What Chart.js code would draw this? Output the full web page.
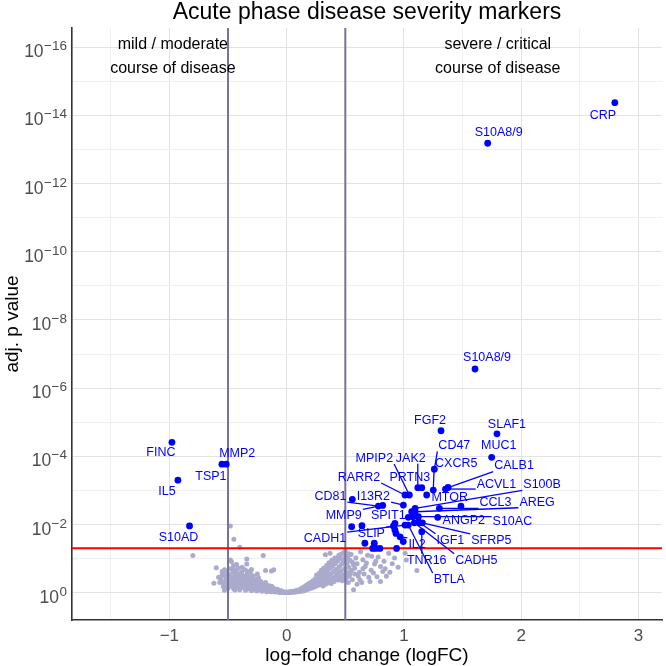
<!DOCTYPE html>
<html>
<head>
<meta charset="utf-8">
<script src="https://cdn.jsdelivr.net/npm/chart.js@4/dist/chart.umd.min.js"></script>
<style>
  html, body { margin: 0; padding: 0; background: #ffffff; }
  #volcano { display: block; }
</style>
</head>
<body>
<canvas id="volcano" width="666" height="666"></canvas>
<script>
// Labelled markers (logFC, -log10 adj. p)
const markerNames = [
    'CRP', 'S10A8/9', 'S10A8/9', 'FINC', 'MMP2', 'TSP1', 'IL5', 'S10AD',
    'FGF2', 'SLAF1', 'MUC1', 'CD47', 'CXCR5', 'CALB1', 'JAK2', 'MPIP2',
    'PRTN3', 'MTOR', 'RARR2', 'ACVL1', 'S100B', 'CD81', 'I13R2', 'CCL3',
    'AREG', 'MMP9', 'SPIT1', 'ANGP2', 'S10AC', 'CADH1', 'SLIP', 'IGF1',
    'SFRP5', 'IL2', 'CADH5', 'TNR16', 'BTLA'
];
const markerLogFC = [
    2.798, 1.714, 1.606, -0.978, -0.515, -0.552, -0.927, -0.828,
    1.316, 1.793, 1.748, 1.259, 1.250, 1.376, 1.118, 1.046,
    1.152, 1.194, 1.009, 1.354, 1.095, 0.782, 0.995, 1.302,
    1.095, 0.819, 1.037, 1.288, 1.123, 1.009, 0.910, 1.123,
    1.157, 0.967, 1.089, 1.152, 1.037
];
const markerNegLog10P = [
    14.37, 13.18, 6.56, 4.41, 3.77, 3.77, 3.30, 1.96,
    4.75, 4.66, 3.97, 3.62, 3.01, 3.085, 3.08, 2.865,
    3.08, 2.865, 2.865, 3.04, 2.475, 2.54, 2.57, 2.475,
    2.375, 2.56, 2.21, 2.21, 2.23, 1.985, 1.955, 2.08,
    2.05, 1.64, 2.05, 1.79, 1.985
];

// Significant markers without a label
const otherSigLogFC = [
    0.560, 1.486, 0.554, 0.642, 0.667, 0.747, 0.761, 0.795, 0.937,
    0.932, 0.923, 1.066, 1.075, 1.130, 0.994, 0.733, 0.923
];
const otherSigNegLog10P = [
    2.74, 2.54, 1.935, 1.965, 1.45, 1.45, 1.30, 1.30, 1.30,
    1.74, 2.035, 2.375, 2.23, 2.05, 1.50, 1.30, 1.84
];

// Non-significant markers
const nsLogFC = [
    -0.80, -0.48, -0.45, -0.40, -0.60, -0.53, -0.53, -0.20, -0.18, -0.34,
    -0.43, -0.34, -0.11, -0.13, -0.47, -0.48, -0.34, -0.44, -0.53, -0.426,
    -0.56, -0.55, -0.54, -0.52, -0.515, -0.51, -0.50, -0.495, -0.49, -0.485,
    -0.47, -0.465, -0.46, -0.455, -0.45, -0.445, -0.44, -0.435, -0.425, -0.42,
    -0.415, -0.41, -0.40, -0.395, -0.39, -0.385, -0.375, -0.37, -0.365, -0.36,
    -0.35, -0.345, -0.34, -0.335, -0.325, -0.32, -0.315, -0.31, -0.30, -0.295,
    -0.29, -0.285, -0.275, -0.27, -0.265, -0.255, -0.25, -0.245, -0.24, -0.23,
    -0.225, -0.22, -0.21, -0.205, -0.20, -0.19, -0.185, -0.18, -0.17, -0.165,
    -0.16, -0.15, -0.145, -0.135, -0.13, -0.125, -0.115, -0.11, -0.10, -0.095,
    -0.085, -0.08, -0.07, -0.065, -0.055, -0.045, -0.04, -0.03, -0.02, -0.01,
    -0.52, -0.50, -0.48, -0.46, -0.44, -0.43, -0.41, -0.40, -0.38, -0.36,
    -0.35, -0.33, -0.31, -0.28, -0.26, -0.24, -0.22, -0.20, -0.175, -0.155,
    -0.58, -0.57, -0.55, -0.54, -0.53, -0.51, -0.50, -0.49, -0.47, -0.46,
    -0.45, -0.44, -0.43, -0.42, -0.41, -0.39, -0.38, -0.37, -0.36, -0.35,
    -0.34, -0.33, -0.32, -0.30, -0.29, -0.27, -0.26, -0.25, -0.23, -0.21,
    -0.19, -0.17, -0.15, -0.14, -0.12, -0.10, -0.08, -0.07, -0.05, -0.62,
    -0.25, -0.30, -0.38, -0.09, -0.06, -0.035, -0.015,
    0.00, 0.01, 0.02, 0.03, 0.04, 0.05, 0.06, 0.07,
    0.005, 0.015, 0.025, 0.035, 0.045, 0.055, 0.065, 0.075, 0.085, 0.095,
    0.105, 0.115, 0.135, 0.155, 0.175, 0.195, 0.215, 0.235, 0.26, 0.28,
    0.30, 0.32, 0.34, 0.36, 0.38, 0.40, 0.42, 0.44, 0.46, 0.48,
    0.50, 0.52, 0.54,
    0.08, 0.09, 0.10, 0.11, 0.12, 0.125, 0.13, 0.14, 0.145, 0.15,
    0.16, 0.165, 0.17, 0.18, 0.185, 0.19, 0.20, 0.205, 0.21, 0.22,
    0.225, 0.23, 0.24, 0.245, 0.25, 0.255, 0.26, 0.265, 0.27, 0.275,
    0.28, 0.285, 0.29, 0.295, 0.30, 0.305, 0.31, 0.315, 0.32, 0.325,
    0.33, 0.335, 0.34, 0.345, 0.35, 0.355, 0.36, 0.365, 0.37, 0.375,
    0.38, 0.385, 0.39, 0.395, 0.40, 0.405, 0.41, 0.415, 0.42, 0.425,
    0.43, 0.435, 0.44, 0.445, 0.45, 0.455, 0.46, 0.465, 0.47, 0.475,
    0.48, 0.485, 0.49, 0.495, 0.50, 0.505, 0.51, 0.515, 0.52, 0.525,
    0.53, 0.535, 0.54, 0.55, 0.56, 0.57, 0.57,
    0.28, 0.30, 0.32, 0.34, 0.36, 0.38, 0.40, 0.42, 0.44, 0.46,
    0.50, 0.52, 0.53, 0.56, 0.58, 0.60, 0.61, 0.64, 0.66, 0.67,
    0.69, 0.72, 0.75, 0.77, 0.78, 0.83, 0.84, 0.88, 0.92, 0.95,
    0.33, 0.37, 0.48, 0.58, 0.60, 0.62, 0.625, 0.65, 0.65, 0.68,
    0.70, 0.71, 0.725, 0.74, 0.76, 0.80, 0.80, 0.82, 0.85, 0.87,
    0.90, 1.01, 1.02, 1.11, 0.59, 0.63, 0.55
];
const nsNegLog10P = [
    1.09, 1.96, 1.57, 1.33, 0.73, 0.62, 0.07, 1.09, 0.65, 0.84,
    0.83, 0.64, 0.67, 0.64, 0.91, 0.96, 0.99, 0.08, 0.67, 0.81,
    0.40, 0.52, 0.29, 0.21, 0.45, 0.58, 0.13, 0.33, 0.70, 0.49,
    0.19, 0.38, 0.60, 0.78, 0.11, 0.27, 0.46, 0.66, 0.17, 0.35,
    0.53, 0.72, 0.09, 0.24, 0.42, 0.60, 0.15, 0.31, 0.48, 0.68,
    0.07, 0.21, 0.37, 0.55, 0.12, 0.27, 0.44, 0.58, 0.06, 0.18,
    0.33, 0.49, 0.10, 0.24, 0.39, 0.05, 0.15, 0.29, 0.44, 0.09,
    0.20, 0.33, 0.04, 0.13, 0.25, 0.07, 0.17, 0.30, 0.03, 0.11,
    0.21, 0.06, 0.14, 0.03, 0.09, 0.18, 0.05, 0.12, 0.02, 0.07,
    0.04, 0.10, 0.02, 0.05, 0.03, 0.06, 0.01, 0.03, 0.01, 0.02,
    0.36, 0.26, 0.30, 0.23, 0.55, 0.40, 0.19, 0.50, 0.36, 0.26,
    0.43, 0.19, 0.36, 0.14, 0.30, 0.21, 0.12, 0.18, 0.10, 0.16,
    0.45, 0.30, 0.62, 0.18, 0.50, 0.38, 0.55, 0.23, 0.45, 0.70,
    0.32, 0.20, 0.62, 0.28, 0.45, 0.33, 0.52, 0.22, 0.40, 0.15,
    0.30, 0.48, 0.17, 0.39, 0.24, 0.31, 0.17, 0.36, 0.26, 0.19,
    0.22, 0.14, 0.10, 0.20, 0.07, 0.11, 0.05, 0.08, 0.04, 0.28,
    0.55, 0.68, 0.75, 0.04, 0.01, 0.02, 0.005,
    0.01, 0.02, 0.01, 0.03, 0.02, 0.04, 0.02, 0.05,
    0.01, 0.005, 0.02, 0.01, 0.03, 0.02, 0.03, 0.02, 0.05, 0.03,
    0.06, 0.04, 0.05, 0.09, 0.12, 0.15, 0.17, 0.20, 0.23, 0.27,
    0.24, 0.29, 0.27, 0.33, 0.36, 0.41, 0.44, 0.37, 0.48, 0.43,
    0.52, 0.47, 0.58,
    0.03, 0.07, 0.04, 0.09, 0.05, 0.13, 0.08, 0.11, 0.17, 0.06,
    0.13, 0.21, 0.09, 0.16, 0.26, 0.11, 0.19, 0.30, 0.13, 0.23,
    0.35, 0.16, 0.27, 0.41, 0.19, 0.52, 0.31, 0.46, 0.22, 0.37,
    0.58, 0.26, 0.43, 0.66, 0.30, 0.50, 0.20, 0.72, 0.36, 0.56,
    0.25, 0.44, 0.80, 0.63, 0.31, 0.49, 0.88, 0.70, 0.38, 0.55,
    0.27, 0.95, 0.77, 0.44, 0.62, 0.33, 1.02, 0.85, 0.51, 0.69,
    0.39, 0.93, 0.58, 1.10, 0.76, 0.45, 1.00, 0.64, 0.84, 0.35,
    1.16, 0.53, 0.92, 0.71, 1.22, 0.42, 0.60, 0.86, 1.05, 0.30,
    0.75, 0.50, 0.95, 0.65, 0.38, 0.82, 0.09,
    0.48, 0.56, 0.63, 0.69, 0.76, 0.84, 0.90, 0.96, 1.04, 1.12,
    1.08, 0.98, 1.14, 0.90, 0.72, 0.85, 0.48, 0.30, 0.55, 0.77,
    1.10, 0.66, 0.84, 0.47, 1.05, 0.92, 0.70, 0.60, 1.02, 0.75,
    1.11, 1.16, 0.97, 0.55, 0.25, 0.60, 0.38, 0.97, 0.70, 0.87,
    0.45, 0.33, 1.07, 0.58, 0.92, 0.77, 0.33, 0.62, 0.48, 1.16,
    0.85, 1.16, 0.96, 0.65, 1.02, 1.20, 1.12
];

// Axis ticks and reference lines
const xTickValues = [-1.5, -1, -0.5, 0, 0.5, 1, 1.5, 2, 2.5, 3];
const yTickValues = [0, 1, 2, 3, 4, 5, 6, 7, 8, 9, 10, 11, 12, 13, 14, 15, 16];
const foldCutoffs = [-0.5, 0.5];
const pCutoff = 0.05;

// Label placement (pixel offset of label centre from its point), layout only
const labelDx = [
    -12, 11, 12, -11, 11, -11, -11, -11,
    -11, 10, 7, 20, 23, 66, -7, -35,
    -12, 23, -46, 51, 127, -48, -30, 56,
    122, -39, -20, 26, 94, -80, -22, 32,
    69, 17, 62, 5, 41
];
const labelDy = [
    12, -11, -12, 10, -11, 12, 11, 11,
    -11, -10, -12, -24, -27, -22, -30, -37,
    -11, 2, -18, -5, -24, -10, -9, -6,
    -10, 10, -2, 3, 4, 13, 7, 18,
    17, 7, 37, 28, 54
];

const FONT = '"Liberation Sans", Arial, Helvetica, sans-serif';

function minusLabel(v) {
    return v < 0 ? '\u2212' + Math.abs(v) : String(v);
}

const sigData = markerLogFC.map((x, i) => ({ x: x, y: markerNegLog10P[i] }))
    .concat(otherSigLogFC.map((x, i) => ({ x: x, y: otherSigNegLog10P[i] })));
const nsData = nsLogFC.map((x, i) => ({ x: x, y: nsNegLog10P[i] }));

// Cutoff lines go between the grey and blue points
const cutoffLines = {
    id: 'cutoffLines',
    beforeDatasetDraw(chart, args) {
        if (args.index !== 0) return;
        const { ctx, chartArea, scales } = chart;
        ctx.save();
        ctx.beginPath();
        ctx.rect(chartArea.left, chartArea.top, chartArea.right - chartArea.left, chartArea.bottom - chartArea.top);
        ctx.clip();
        ctx.strokeStyle = '#74749e';
        ctx.lineWidth = 2;
        foldCutoffs.forEach(v => {
            const px = scales.x.getPixelForValue(v);
            ctx.beginPath();
            ctx.moveTo(px, chartArea.top);
            ctx.lineTo(px, chartArea.bottom);
            ctx.stroke();
        });
        const py = scales.y.getPixelForValue(-Math.log10(pCutoff));
        ctx.strokeStyle = '#ff0000';
        ctx.beginPath();
        ctx.moveTo(chartArea.left, py);
        ctx.lineTo(chartArea.right, py);
        ctx.stroke();
        ctx.restore();
    }
};

// Repelled labels, segments, annotations, titles and power-of-ten ticks
const textLayer = {
    id: 'textLayer',
    afterDatasetsDraw(chart) {
        const { ctx, chartArea, scales } = chart;
        ctx.save();
        ctx.font = '12.5px ' + FONT;
        ctx.textAlign = 'center';
        ctx.textBaseline = 'middle';
        ctx.strokeStyle = '#0000ff';
        ctx.fillStyle = '#0000ff';
        ctx.lineWidth = 1.3;
        markerNames.forEach((name, i) => {
            const px = scales.x.getPixelForValue(markerLogFC[i]);
            const py = scales.y.getPixelForValue(markerNegLog10P[i]);
            const cx = px + labelDx[i];
            const cy = py + labelDy[i];
            const hw = ctx.measureText(name).width / 2 + 1;
            const hh = 6;
            const ex = Math.min(Math.max(px, cx - hw), cx + hw);
            const ey = Math.min(Math.max(py, cy - hh), cy + hh);
            if (Math.hypot(ex - px, ey - py) > 7) {
                ctx.beginPath();
                ctx.moveTo(px, py);
                ctx.lineTo(ex, ey);
                ctx.stroke();
            }
        });
        markerNames.forEach((name, i) => {
            const px = scales.x.getPixelForValue(markerLogFC[i]);
            const py = scales.y.getPixelForValue(markerNegLog10P[i]);
            ctx.fillText(name, px + labelDx[i], py + labelDy[i] + 0.5);
        });

        ctx.fillStyle = '#000000';
        ctx.font = '16px ' + FONT;
        ctx.textBaseline = 'alphabetic';
        const lx = scales.x.getPixelForValue(-0.97);
        const rx = scales.x.getPixelForValue(1.80);
        ctx.fillText('mild / moderate', lx, chartArea.top + 21);
        ctx.fillText('course of disease', lx, chartArea.top + 45);
        ctx.fillText('severe / critical', rx, chartArea.top + 21);
        ctx.fillText('course of disease', rx, chartArea.top + 45);
        ctx.restore();
    },
    afterDraw(chart) {
        const { ctx, chartArea, scales } = chart;
        const midX = (chartArea.left + chartArea.right) / 2;
        ctx.save();
        // y tick labels as 10^-n
        ctx.fillStyle = '#4d4d4d';
        ctx.textAlign = 'right';
        ctx.textBaseline = 'alphabetic';
        yTickValues.filter(v => v % 2 === 0).forEach(v => {
            const py = scales.y.getPixelForValue(v);
            const right = chartArea.left - 5;
            const exp = v === 0 ? '0' : '\u2212' + v;
            ctx.font = '13.5px ' + FONT;
            const ew = ctx.measureText(exp).width;
            ctx.fillText(exp, right, py + 3);
            ctx.font = '17.5px ' + FONT;
            ctx.fillText('10', right - ew - 0.5, py + 10);
        });

        ctx.fillStyle = '#000000';
        ctx.textAlign = 'center';
        ctx.font = '23px ' + FONT;
        ctx.fillText('Acute phase disease severity markers', midX, 19);
        ctx.font = '19px ' + FONT;
        ctx.fillText('log\u2212fold change (logFC)', midX, 661);
        ctx.translate(18, (chartArea.top + chartArea.bottom) / 2);
        ctx.rotate(-Math.PI / 2);
        ctx.fillText('adj. p value', 0, 0);
        ctx.restore();
    }
};

const ctx = document.getElementById('volcano');
new Chart(ctx, {
    type: 'scatter',
    data: {
        datasets: [{
            label: 'significant',
            data: sigData,
            backgroundColor: '#0000ff',
            borderWidth: 0,
            pointRadius: 3.4
        }, {
            label: 'not significant',
            data: nsData,
            backgroundColor: '#aaaacc',
            borderWidth: 0,
            pointRadius: 2.5
        }]
    },
    options: {
        responsive: false,
        animation: false,
        layout: { padding: { top: 28, right: 0, bottom: 0, left: 0 } },
        plugins: {
            legend: { display: false },
            tooltip: { enabled: false },
            title: { display: false }
        },
        scales: {
            x: {
                type: 'linear',
                min: -1.83,
                max: 3.20,
                afterBuildTicks: scale => { scale.ticks = xTickValues.map(v => ({ value: v })); },
                afterFit: scale => { scale.height = 46; },
                border: { display: true, color: '#333333', width: 1.6 },
                grid: {
                    drawTicks: false,
                    color: c => Number.isInteger(c.tick.value) ? '#e3e3e3' : '#f0f0f0',
                    lineWidth: 1
                },
                ticks: {
                    autoSkip: false,
                    maxRotation: 0,
                    padding: 6,
                    color: '#4d4d4d',
                    font: { family: FONT, size: 17 },
                    callback: v => Number.isInteger(v) ? minusLabel(v) : ''
                }
            },
            y: {
                type: 'linear',
                min: -0.8,
                max: 16.56,
                afterBuildTicks: scale => { scale.ticks = yTickValues.map(v => ({ value: v })); },
                afterFit: scale => { scale.width = 72; },
                border: { display: true, color: '#333333', width: 1.6 },
                grid: {
                    drawTicks: false,
                    color: c => c.tick.value % 2 === 0 ? '#e3e3e3' : '#f0f0f0',
                    lineWidth: 1
                },
                ticks: { display: false }
            }
        }
    },
    plugins: [cutoffLines, textLayer]
});
</script>
</body>
</html>
